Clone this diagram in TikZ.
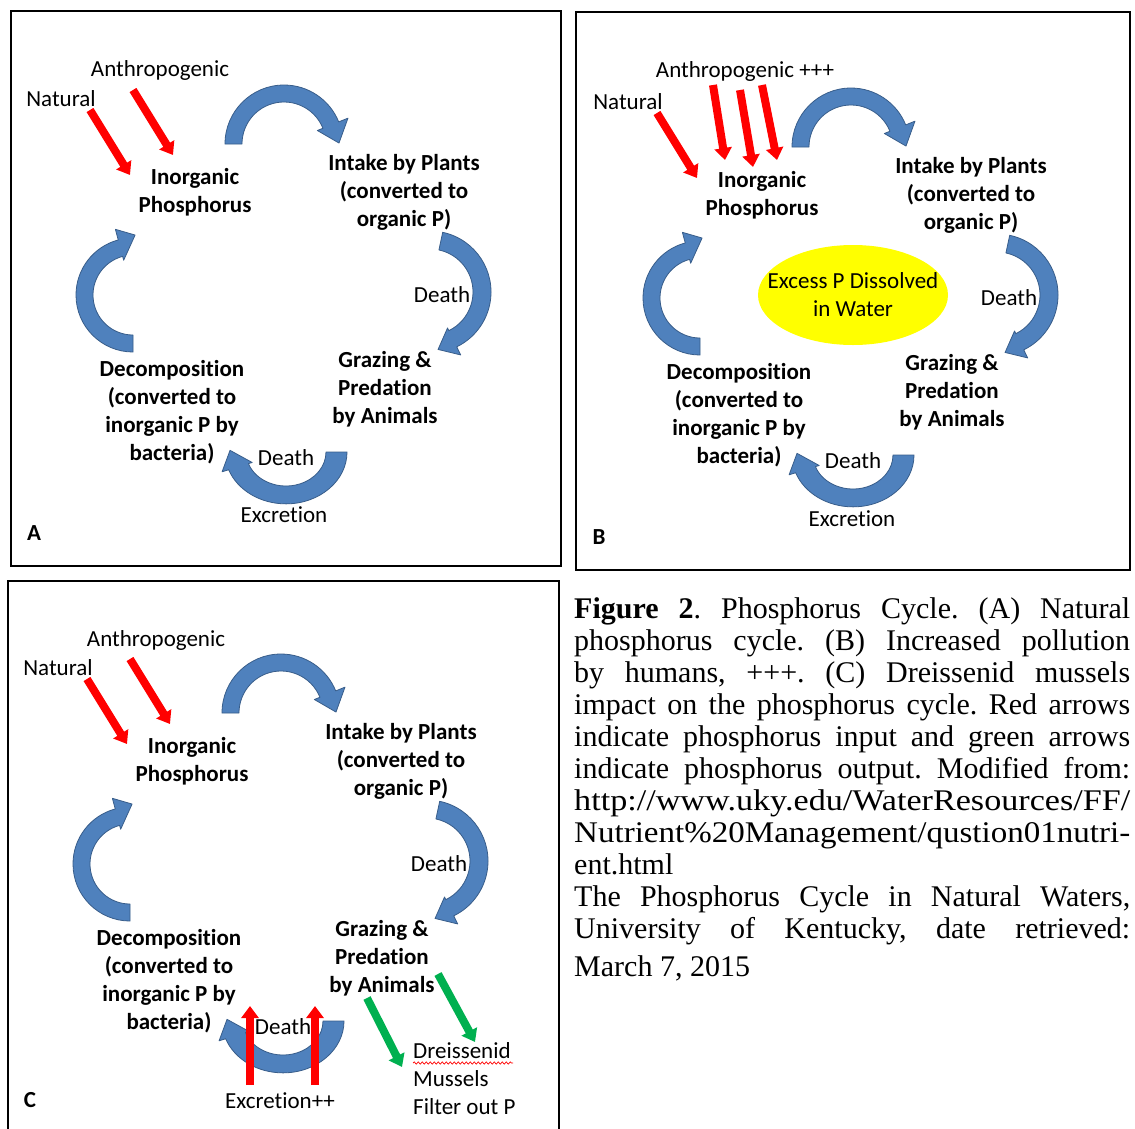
\documentclass[tikz,border=0pt]{standalone}
\usepackage{fontspec}
\usepackage{graphicx}
\setmainfont{Carlito}[Ligatures=NoCommon]
\newfontfamily\capfont{Liberation Serif}
\frenchspacing
\usetikzlibrary{arrows.meta,shapes.geometric,decorations.pathmorphing}
\definecolor{pblue}{HTML}{4F81BD}
\definecolor{pbluedark}{HTML}{385D8A}
\definecolor{pred}{HTML}{FF0000}
\definecolor{pgreen}{HTML}{00B050}
\definecolor{pyellow}{HTML}{FFFF00}
\tikzset{
  bluearrow/.style={fill=pblue,draw=pbluedark,line width=0.8pt,line join=round},
  inarrow/.style={draw=pred,line width=8pt,-{Triangle[width=17pt,length=12pt]}},
  outarrow/.style={draw=pgreen,line width=8pt,-{Triangle[width=17pt,length=12pt]}},
  lab/.style={font=\fontsize{23}{28}\selectfont\bfseries,align=center,inner sep=0pt},
  txt/.style={font=\fontsize{23}{28}\selectfont,align=center,inner sep=0pt},
  panelbox/.style={draw=black,line width=2pt},
  capline/.style={font=\capfont\fontsize{30}{32}\selectfont,inner sep=0pt,anchor=base west},
  squig/.style={draw=pred,line width=0.7pt,decorate,decoration={snake,amplitude=1.1pt,segment length=4pt}},
}
% #1 R, #2 r, #3 tail angle, #4 head base angle, #5 tip (polar), #6 outer wing radius, #7 inner wing radius
\newcommand\cyclearrow[7]{%
  \path[bluearrow] (#3:#1) arc[start angle=#3,end angle=#4,radius=#1]
    -- (#4:#6) -- (#5) -- (#4:#7) -- (#4:#2)
    arc[start angle=#4,end angle=#3,radius=#2] -- cycle;}
\newcommand\cyclecore{%
  \begin{scope}[shift={(284,144)}]\cyclearrow{59}{42}{180}{338}{359:55}{69}{36}\end{scope}
  \begin{scope}[shift={(430,292)}]\cyclearrow{61}{43}{282}{424}{442:58}{70}{40}\end{scope}
  \begin{scope}[shift={(286,452)},yscale=0.85]\cyclearrow{61}{40}{0}{160}{182:56}{68}{36}\end{scope}
  \begin{scope}[shift={(133,295)}]\cyclearrow{57}{40}{90}{255}{272:60}{68}{36}\end{scope}
  \node[lab] (inorg) at (195,192) {Inorganic\\Phosphorus};
  \node[lab] (intake) at (404,192) {Intake by Plants\\(converted to\\organic P)};
  \node[txt] (death1) at (442,295) {Death};
  \node[lab] (graze) at (385,389) {Grazing \&\\Predation\\by Animals};
  \node[lab] (decomp) at (172,412) {Decomposition\\(converted to\\inorganic P by\\bacteria)};
  \node[txt] (death2) at (286,458) {Death};
  \node[txt] (natural) at (61,99) {Natural};
  \coordinate (natS) at (90,110);
  \coordinate (natE) at (130,175);
  \draw[inarrow] (natS) -- (natE);
}
\begin{document}
\begin{tikzpicture}[x=1pt,y=-1pt]
\useasboundingbox (0,0) rectangle (1135,1128);
\fill[white] (0,0) rectangle (1135,1128);
% panel frames
\draw[panelbox] (11,11) rectangle (561,566);
\draw[panelbox] (576,12) rectangle (1130,570);
\draw[panelbox] (8,581) rectangle (559,1140);

% ---------- Panel A ----------
\begin{scope}[name prefix=a-]
  \cyclecore
  \node[txt] (anth) at (160,70) {Anthropogenic};
  \coordinate (anS) at (133,90);
  \coordinate (anE) at (173,155);
  \draw[inarrow] (anS) -- (anE);
  \node[txt] (exc) at (284,515) {Excretion};
  \node[lab] (letter) at (34,533) {A};
\end{scope}

% ---------- Panel B ----------
\begin{scope}[shift={(567,3)},name prefix=b-]
  \node[ellipse,fill=pyellow,minimum width=190pt,minimum height=100pt,inner sep=0pt] (excess) at (286,292) {};
  \node[txt] (excesstxt) at (excess.center) {Excess P Dissolved\\in Water};
  \cyclecore
  \node[txt] (anth) at (178,68) {Anthropogenic +++};
  \coordinate (an1S) at (146,82);  \coordinate (an1E) at (158,157);
  \coordinate (an2S) at (173,87);  \coordinate (an2E) at (186,164);
  \coordinate (an3S) at (195,82);  \coordinate (an3E) at (210,157);
  \draw[inarrow] (an1S) -- (an1E);
  \draw[inarrow] (an2S) -- (an2E);
  \draw[inarrow] (an3S) -- (an3E);
  \node[txt] (exc) at (285,516) {Excretion};
  \node[lab] (letter) at (32,534) {B};
\end{scope}

% ---------- Panel C ----------
\begin{scope}[shift={(-3,569)},name prefix=c-]
  \cyclecore
  \node[txt] (anth) at (159,71) {Anthropogenic};
  \coordinate (anS) at (133,90);
  \coordinate (anE) at (173,155);
  \draw[inarrow] (anS) -- (anE);
  \node[txt] (exc) at (283,532) {Excretion++};
  \coordinate (ex1S) at (253,516); \coordinate (ex1E) at (253,437);
  \coordinate (ex2S) at (318,516); \coordinate (ex2E) at (318,437);
  \draw[inarrow] (ex1S) -- (ex1E);
  \draw[inarrow] (ex2S) -- (ex2E);
  \node[txt,align=left,anchor=west] (mussels) at (416,510) {Dreissenid\\Mussels\\Filter out P};
  \coordinate (sqA) at (416,494); \coordinate (sqB) at (516,494);
  \draw[squig] (sqA) -- (sqB);
  \coordinate (g1S) at (370,429); \coordinate (g1E) at (405,498);
  \coordinate (g2S) at (441,405); \coordinate (g2E) at (478,473);
  \draw[outarrow] (g1S) -- (g1E);
  \draw[outarrow] (g2S) -- (g2E);
  \node[lab] (letter) at (33,531) {C};
\end{scope}

% ---------- Caption ----------
\node[capline] (cap1) at (574,618) {\makebox[556pt][s]{\textbf{Figure 2}. Phosphorus Cycle. (A) Natural}};
\node[capline] (cap2) at (574,650) {\makebox[556pt][s]{phosphorus cycle. (B) Increased pollution}};
\node[capline] (cap3) at (574,682) {\makebox[556pt][s]{by humans, +++. (C) Dreissenid mussels}};
\node[capline] (cap4) at (574,714) {\makebox[556pt][s]{impact on the phosphorus cycle. Red arrows}};
\node[capline] (cap5) at (574,746) {\makebox[556pt][s]{indicate phosphorus input and green arrows}};
\node[capline] (cap6) at (574,778) {\makebox[556pt][s]{indicate phosphorus output. Modified from:}};
\node[capline] (cap7) at (574,810) {\resizebox{556pt}{\height}{http://www.uky.edu/WaterResources/FF/}};
\node[capline] (cap8) at (574,842) {\resizebox{556pt}{\height}{Nutrient\%20Management/qustion01nutri-}};
\node[capline] (cap9) at (574,874) {ent.html};
\node[capline] (cap10) at (574,906) {\makebox[556pt][s]{The Phosphorus Cycle in Natural Waters,}};
\node[capline] (cap11) at (574,938) {\makebox[556pt][s]{University of Kentucky, date retrieved:}};
\node[capline] (cap12) at (574,976) {March 7, 2015};
\end{tikzpicture}
\end{document}
